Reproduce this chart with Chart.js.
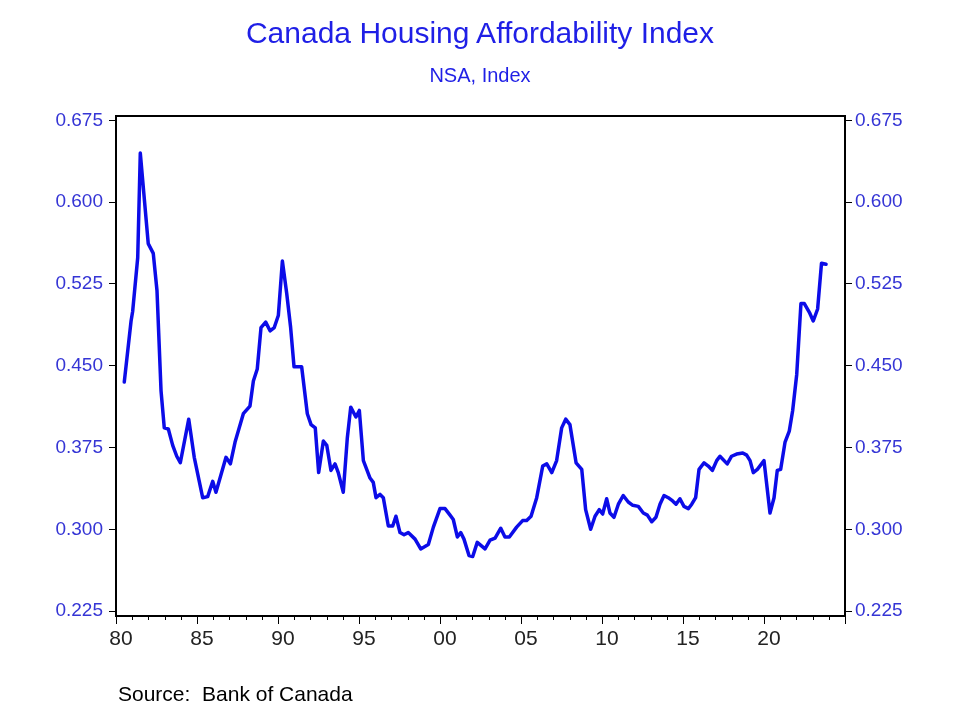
<!DOCTYPE html>
<html>
<head>
<meta charset="utf-8">
<script src="https://cdn.jsdelivr.net/npm/chart.js@4.4.1/dist/chart.umd.min.js"></script>
<style>
  html, body { margin: 0; padding: 0; background: #ffffff; }
  #wrap { position: relative; width: 960px; height: 720px; overflow: hidden; }
  #chart { position: absolute; left: 0; top: 0; }
  .txt { position: absolute; font-family: 'Liberation Sans', Arial, sans-serif; white-space: nowrap; line-height: 1; }
  #title { left: 0; width: 960px; top: 18px; text-align: center; font-size: 30px; color: #1f1fe6; }
  #subtitle { left: 0; width: 960px; top: 65px; text-align: center; font-size: 20px; color: #1f1fe6; }
  #source { left: 118px; top: 683px; font-size: 21px; color: #000000; }
</style>
</head>
<body>
<div id="wrap">
  <canvas id="chart" width="960" height="720"></canvas>
  <div id="title" class="txt">Canada Housing Affordability Index</div>
  <div id="subtitle" class="txt">NSA, Index</div>
  <div id="source" class="txt">Source:&nbsp; Bank of Canada</div>
</div>
<script>
// ---- data (decimal year, index value) ----
const dates = [
  1980.51,1980.93,1981.03,1981.34,1981.50,1981.99,1982.30,1982.53,1982.78,1982.98,
  1983.23,1983.50,1983.75,1983.97,1984.49,1984.83,1985.14,1985.35,1985.66,1985.97,
  1986.17,1986.79,1987.06,1987.35,1987.86,1988.27,1988.48,1988.72,1988.95,1989.24,
  1989.51,1989.77,1990.02,1990.27,1990.54,1990.78,1990.99,1991.46,1991.81,1992.04,
  1992.30,1992.51,1992.80,1993.01,1993.27,1993.52,1993.72,1994.03,1994.28,1994.49,
  1994.81,1995.02,1995.27,1995.68,1995.88,1996.05,1996.30,1996.50,1996.81,1997.08,
  1997.28,1997.53,1997.78,1998.04,1998.46,1998.81,1999.28,1999.59,2000.00,2000.31,
  2000.62,2000.82,2001.07,2001.28,2001.48,2001.79,2002.02,2002.30,2002.78,2003.09,
  2003.40,2003.75,2004.01,2004.28,2004.73,2005.10,2005.35,2005.62,2005.97,2006.34,
  2006.59,2006.90,2007.20,2007.51,2007.76,2008.02,2008.40,2008.75,2008.99,2009.30,
  2009.57,2009.83,2010.04,2010.29,2010.49,2010.74,2011.01,2011.31,2011.62,2011.90,
  2012.24,2012.55,2012.80,2013.07,2013.33,2013.58,2013.83,2014.09,2014.36,2014.57,
  2014.81,2015.06,2015.33,2015.54,2015.78,2015.99,2016.30,2016.56,2016.81,2017.08,
  2017.28,2017.73,2018.00,2018.31,2018.69,2018.93,2019.14,2019.34,2019.59,2020.00,
  2020.37,2020.62,2020.82,2021.03,2021.30,2021.56,2021.77,2022.02,2022.28,2022.49,
  2022.80,2023.04,2023.31,2023.55,2023.83
];
const affordability = [
  0.435,0.491,0.500,0.549,0.645,0.562,0.553,0.519,0.427,0.393,
  0.392,0.377,0.367,0.361,0.401,0.366,0.344,0.329,0.330,0.344,
  0.334,0.366,0.360,0.380,0.406,0.413,0.436,0.447,0.485,0.490,
  0.482,0.485,0.496,0.546,0.516,0.485,0.449,0.449,0.406,0.396,
  0.393,0.352,0.381,0.377,0.354,0.360,0.352,0.334,0.384,0.412,
  0.403,0.409,0.363,0.347,0.343,0.329,0.332,0.329,0.303,0.303,
  0.312,0.297,0.295,0.297,0.291,0.282,0.286,0.302,0.319,0.319,
  0.313,0.309,0.293,0.297,0.291,0.276,0.275,0.288,0.282,0.290,
  0.292,0.301,0.293,0.293,0.302,0.308,0.308,0.312,0.329,0.358,
  0.360,0.352,0.363,0.393,0.401,0.396,0.361,0.355,0.318,0.300,
  0.312,0.318,0.314,0.328,0.315,0.311,0.323,0.331,0.325,0.322,
  0.321,0.315,0.313,0.307,0.311,0.323,0.331,0.329,0.326,0.323,
  0.328,0.321,0.319,0.323,0.329,0.355,0.361,0.358,0.354,0.363,
  0.367,0.360,0.367,0.369,0.370,0.368,0.363,0.352,0.355,0.363,
  0.315,0.329,0.354,0.355,0.380,0.390,0.409,0.442,0.507,0.507,
  0.499,0.491,0.502,0.544,0.543
];
const yTickValues = [0.225, 0.300, 0.375, 0.450, 0.525, 0.600, 0.675];
const xTickYears = [];
for (let yr = 1980; yr <= 2025; yr++) xTickYears.push(yr);
const labelYears = [1980, 1985, 1990, 1995, 2000, 2005, 2010, 2015, 2020];

const LINE_BLUE = '#0c0ce8';
const LABEL_BLUE = '#3535d5';

const framePlugin = {
  id: 'frame',
  afterDraw(chart) {
    const { ctx, chartArea: a, scales } = chart;
    ctx.save();
    // minor year ticks on x axis
    ctx.strokeStyle = '#000';
    ctx.lineWidth = 1;
    const xs = scales.x;
    xTickYears.forEach(yr => {
      if (yr % 5 === 0) return;
      const px = Math.round(xs.getPixelForValue(yr)) + 0.5;
      ctx.beginPath();
      ctx.moveTo(px, a.bottom);
      ctx.lineTo(px, a.bottom + 4);
      ctx.stroke();
    });
    // frame
    ctx.lineWidth = 2;
    ctx.strokeRect(a.left, a.top, a.right - a.left, a.bottom - a.top);
    ctx.restore();
  }
};

const yScaleCommon = {
  type: 'linear',
  min: 0.2205,
  max: 0.679,
  afterBuildTicks: s => { s.ticks = yTickValues.map(v => ({ value: v })); },
  grid: { drawOnChartArea: false, drawTicks: true, tickLength: 7, tickColor: '#000', tickWidth: 1 },
  border: { display: false },
  ticks: {
    color: LABEL_BLUE,
    font: { family: "'Liberation Sans', Arial, sans-serif", size: 19 },
    callback: v => Number(v).toFixed(3),
    autoSkip: false
  }
};

new Chart(document.getElementById('chart'), {
  type: 'line',
  data: {
    datasets: [{
      label: 'Housing Affordability Index',
      data: dates.map((d, i) => ({ x: d, y: affordability[i] })),
      borderColor: LINE_BLUE,
      backgroundColor: LINE_BLUE,
      borderWidth: 3.5,
      pointRadius: 0,
      tension: 0,
      borderJoinStyle: 'round',
      borderCapStyle: 'round',
      yAxisID: 'y'
    }]
  },
  options: {
    responsive: false,
    animation: false,
    devicePixelRatio: 1,
    layout: { padding: { top: 116, bottom: 59, left: 0, right: 0 } },
    plugins: {
      legend: { display: false },
      title: { display: false },
      tooltip: { enabled: false }
    },
    scales: {
      x: {
        type: 'linear',
        min: 1980,
        max: 2025,
        afterBuildTicks: s => { s.ticks = xTickYears.map(v => ({ value: v })); },
        afterFit: s => { s.height = 45; },
        grid: {
          drawOnChartArea: false,
          drawTicks: true,
          tickLength: 8,
          tickWidth: 1,
          tickColor: c => (c.tick && c.tick.value % 5 === 0) ? '#000' : 'rgba(0,0,0,0)'
        },
        border: { display: false },
        ticks: {
          autoSkip: false,
          maxRotation: 0,
          minRotation: 0,
          padding: 3,
          labelOffset: 5,
          color: '#222',
          font: { family: "'Liberation Sans Narrow', 'Liberation Sans', Arial, sans-serif", size: 21 },
          callback: v => labelYears.includes(v) ? String(v % 100).padStart(2, '0') : ''
        }
      },
      y: Object.assign({}, yScaleCommon, {
        position: 'left',
        afterFit: s => { s.width = 116; },
        ticks: Object.assign({}, yScaleCommon.ticks, { padding: 6 })
      }),
      y2: Object.assign({}, yScaleCommon, {
        position: 'right',
        afterFit: s => { s.width = 115; },
        ticks: Object.assign({}, yScaleCommon.ticks, { padding: 3 })
      })
    }
  },
  plugins: [framePlugin]
});
</script>
</body>
</html>
